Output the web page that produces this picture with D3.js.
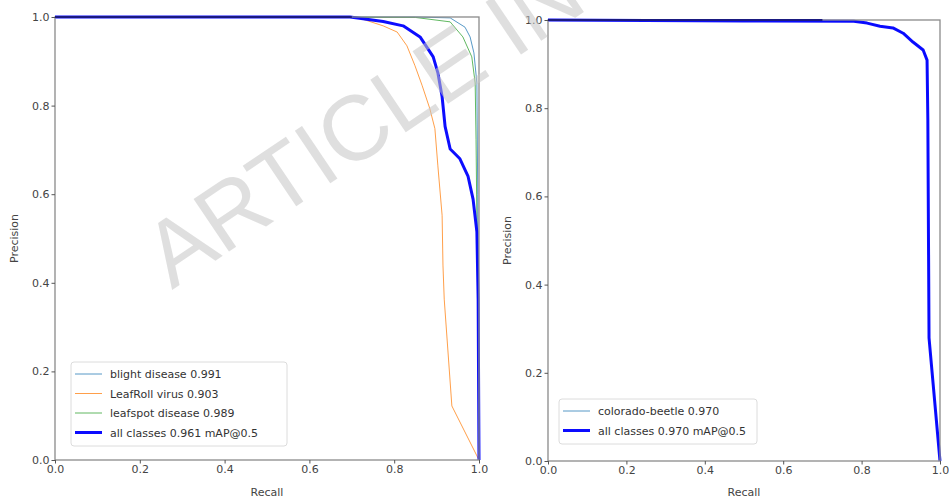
<!DOCTYPE html>
<html>
<head>
<meta charset="utf-8">
<script src="https://cdn.jsdelivr.net/npm/d3@7"></script>
<style>
  body { margin: 0; background: #fff; }
  svg { display: block; }
  text { font-family: "DejaVu Sans", sans-serif; }
</style>
</head>
<body>
<svg id="canvas" width="949" height="500"></svg>
<script>
// tick values shared by both panels
let tickValues = [0, 0.2, 0.4, 0.6, 0.8, 1.0];

// left panel - three disease classes + all classes
let blightRecall    = [0, 0.85, 0.932, 0.967, 0.979, 0.988, 0.995, 0.997, 1.0];
let blightPrecision = [1.0, 1.0, 0.998, 0.977, 0.955, 0.919, 0.851, 0.6, 0.0];

let leafrollRecall    = [0, 0.70, 0.726, 0.774, 0.807, 0.83, 0.849, 0.866, 0.884, 0.896, 0.903, 0.913, 0.915, 0.918, 0.936, 1.0];
let leafrollPrecision = [1.0, 1.0, 0.995, 0.98, 0.966, 0.935, 0.89, 0.845, 0.793, 0.748, 0.664, 0.552, 0.44, 0.363, 0.122, 0.0];

let leafspotRecall    = [0, 0.85, 0.932, 0.962, 0.983, 0.991, 0.993, 0.996, 1.0];
let leafspotPrecision = [1.0, 0.999, 0.989, 0.955, 0.91, 0.851, 0.723, 0.45, 0.0];

let allLeftRecall    = [0, 0.696, 0.774, 0.821, 0.861, 0.892, 0.903, 0.913, 0.92, 0.932, 0.955, 0.974, 0.986, 0.995, 0.998, 1.0];
let allLeftPrecision = [1.0, 1.0, 0.99, 0.98, 0.955, 0.91, 0.874, 0.82, 0.753, 0.702, 0.68, 0.641, 0.589, 0.515, 0.363, 0.0];

// right panel - colorado beetle (single class, same as all classes)
let beetleRecall    = [0, 0.5, 0.78, 0.814, 0.847, 0.88, 0.906, 0.931, 0.957, 0.967, 0.969, 0.972, 1.0];
let beetlePrecision = [1.0, 0.998, 0.997, 0.993, 0.986, 0.982, 0.97, 0.95, 0.932, 0.909, 0.773, 0.279, 0.0];

let leftSeries = [
    {label: 'blight disease 0.991', color: '#1f77b4', width: 1, r: blightRecall, p: blightPrecision},
    {label: 'LeafRoll virus 0.903', color: '#ff7f0e', width: 1, r: leafrollRecall, p: leafrollPrecision},
    {label: 'leafspot disease 0.989', color: '#2ca02c', width: 1, r: leafspotRecall, p: leafspotPrecision},
    {label: 'all classes 0.961 mAP@0.5', color: '#0000ff', width: 3, r: allLeftRecall, p: allLeftPrecision}
];
let rightSeries = [
    {label: 'colorado-beetle 0.970', color: '#1f77b4', width: 1, r: beetleRecall, p: beetlePrecision},
    {label: 'all classes 0.970 mAP@0.5', color: '#0000ff', width: 3, r: beetleRecall, p: beetlePrecision}
];

let canvas = d3.select('#canvas');

let drawPanel = (box, series, legendBox) => {
    let x = d3.scaleLinear().domain([0, 1]).range([box.left, box.right]);
    let y = d3.scaleLinear().domain([0, 1]).range([box.bottom, box.top]);
    let g = canvas.append('g');

    // curves
    let line = d3.line().x(d => x(d[0])).y(d => y(d[1])).curve(d3.curveMonotoneY);
    series.forEach(s => {
        g.append('path')
            .datum(s.r.map((r, i) => [r, s.p[i]]))
            .attr('d', d3.line().x(d => x(d[0])).y(d => y(d[1])))
            .attr('fill', 'none')
            .attr('stroke', s.color)
            .attr('stroke-width', s.width)
            .attr('stroke-linejoin', 'round')
            .attr('opacity', s.width > 1 ? 0.95 : 0.75);
    });

    // spines
    g.append('rect')
        .attr('x', box.left).attr('y', box.top)
        .attr('width', box.right - box.left).attr('height', box.bottom - box.top)
        .attr('fill', 'none').attr('stroke', '#8a8a8a').attr('stroke-width', 1.3);
    // curves over top spine look dark
    g.append('line')
        .attr('x1', box.left).attr('x2', x(0.7)).attr('y1', box.top).attr('y2', box.top)
        .attr('stroke', '#1a1a80').attr('stroke-width', 2);

    let xAxis = g.append('g')
        .attr('transform', `translate(0,${box.bottom})`)
        .call(d3.axisBottom(x).tickValues(tickValues).tickFormat(d3.format('.1f')).tickSize(3.5).tickPadding(2));
    let yAxis = g.append('g')
        .attr('transform', `translate(${box.left},0)`)
        .call(d3.axisLeft(y).tickValues(tickValues).tickFormat(d3.format('.1f')).tickSize(3.5).tickPadding(2));
    [xAxis, yAxis].forEach(a => {
        a.select('.domain').remove();
        a.selectAll('line').attr('stroke', '#555');
        a.selectAll('text').attr('fill', '#444').style('font-size', '11px');
    });

    g.append('text')
        .attr('x', (box.left + box.right) / 2).attr('y', 496)
        .attr('text-anchor', 'middle').attr('fill', '#444').style('font-size', '11px')
        .text('Recall');
    g.append('text')
        .attr('transform', `translate(${box.left - 37},${(box.top + box.bottom) / 2}) rotate(-90)`)
        .attr('text-anchor', 'middle').attr('fill', '#444').style('font-size', '11px')
        .text('Precision');

    // legend
    g.append('rect')
        .attr('x', legendBox.x).attr('y', legendBox.y)
        .attr('width', legendBox.w).attr('height', series.length * 19.5 + 6)
        .attr('rx', 3)
        .attr('fill', '#fff').attr('fill-opacity', 0.85)
        .attr('stroke', '#dcdcdc');
    let items = g.selectAll('g.leg')
        .data(series)
        .enter()
        .append('g')
        .attr('transform', (d, i) => `translate(${legendBox.x + 4},${legendBox.y + 12 + i * 19.5})`);
    items.append('line')
        .attr('x1', 0).attr('x2', 27)
        .attr('stroke', d => d.color)
        .attr('stroke-width', d => d.width)
        .attr('opacity', d => d.width > 1 ? 0.95 : 0.75);
    items.append('text')
        .attr('x', 35).attr('y', 4)
        .attr('fill', '#333').style('font-size', '11px')
        .text(d => d.label);
};

drawPanel({left: 55, right: 479, top: 17, bottom: 460}, leftSeries, {x: 71, y: 362, w: 216});
drawPanel({left: 548, right: 940, top: 20, bottom: 461}, rightSeries, {x: 559, y: 399, w: 198});

// watermark
canvas.append('text')
    .attr('transform', 'translate(172,290) rotate(-34)')
    .attr('fill', '#c4c4c4').attr('fill-opacity', 0.55)
    .style('font-family', '"Liberation Sans", Arial, sans-serif')
    .style('font-size', '92px')
    .text('ARTICLE IN PRESS');
</script>
</body>
</html>
